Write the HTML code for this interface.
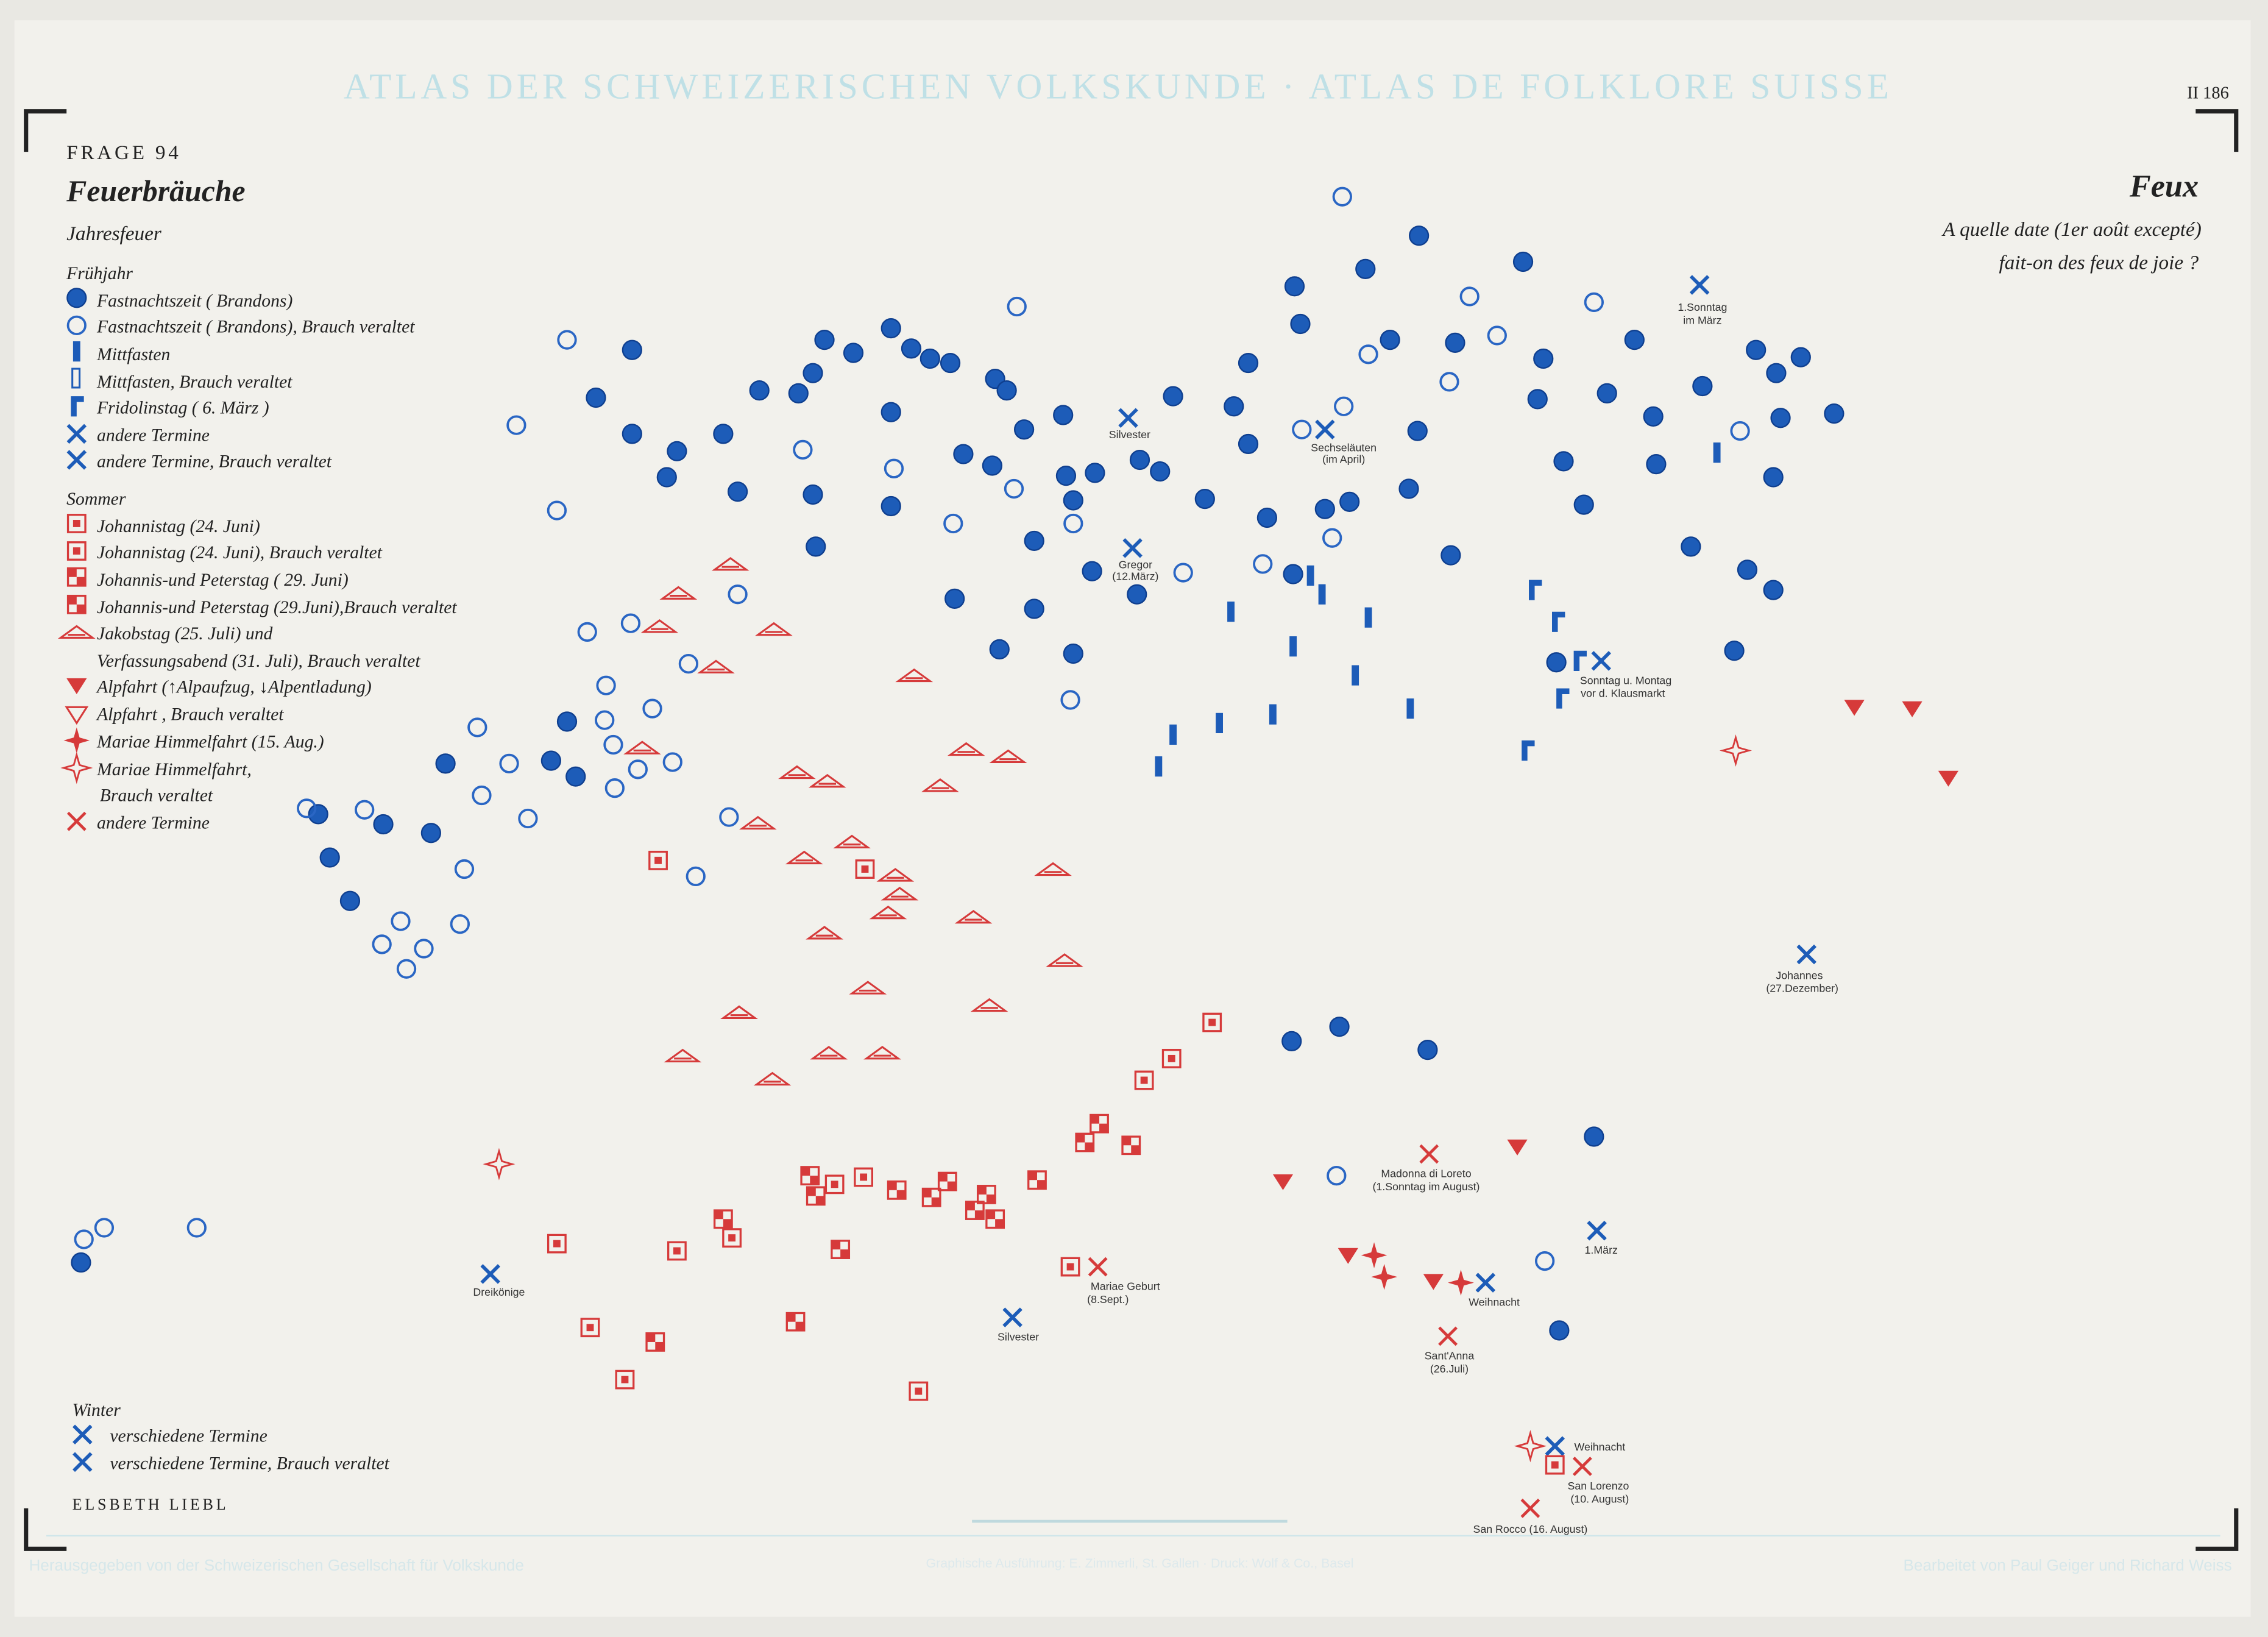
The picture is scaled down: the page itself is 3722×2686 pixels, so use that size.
<!DOCTYPE html>
<html><head><meta charset="utf-8"><style>
html,body{margin:0;padding:0;background:#f2f1ec;}
svg{display:block}
</style></head><body>
<svg width="3722" height="2686" viewBox="0 0 1568 1132" preserveAspectRatio="none" xmlns="http://www.w3.org/2000/svg" xmlns:xlink="http://www.w3.org/1999/xlink">
<defs>
<symbol id="fc" viewBox="-8 -8 16 16" overflow="visible"><circle r="6.5" fill="#1d5cb8"/><circle r="6.5" fill="none" stroke="#0f3f8f" stroke-width="1"/></symbol>
<symbol id="hc" viewBox="-8 -8 16 16" overflow="visible"><circle r="6" fill="none" stroke="#2a66c4" stroke-width="1.6"/></symbol>
<symbol id="bar" viewBox="-8 -8 16 16" overflow="visible"><rect x="-2.5" y="-7" width="5" height="14" fill="#1d5cb8"/></symbol>
<symbol id="fri" viewBox="-8 -8 16 16" overflow="visible"><path d="M-4,-7 h9 v4 h-5 v10 h-4z" fill="#1d5cb8"/></symbol>
<symbol id="bx" viewBox="-8 -8 16 16" overflow="visible"><path d="M-6,-6 L6,6 M6,-6 L-6,6" stroke="#1d5cb8" stroke-width="2.4"/></symbol>
<symbol id="tri" viewBox="-8 -8 16 16" overflow="visible"><path d="M-11,4 L0,-4 L11,4 Z M-6,2 h12" fill="none" stroke="#d63a3a" stroke-width="1.3"/></symbol>
<symbol id="sq" viewBox="-8 -8 16 16" overflow="visible"><rect x="-6" y="-6" width="12" height="12" fill="none" stroke="#d63a3a" stroke-width="1.4"/><rect x="-2.5" y="-2.5" width="5" height="5" fill="#d63a3a"/></symbol>
<symbol id="sq2" viewBox="-8 -8 16 16" overflow="visible"><rect x="-6" y="-6" width="12" height="12" fill="none" stroke="#d63a3a" stroke-width="1.4"/><rect x="-6" y="-6" width="6" height="6" fill="#d63a3a"/><rect x="0" y="0" width="6" height="6" fill="#d63a3a"/></symbol>
<symbol id="rt" viewBox="-8 -8 16 16" overflow="visible"><path d="M-7,-5 L7,-5 L0,6 Z" fill="#d63a3a"/></symbol>
<symbol id="st" viewBox="-8 -8 16 16" overflow="visible"><path d="M0,-9 L2,-2 L9,0 L2,2 L0,9 L-2,2 L-9,0 L-2,-2Z" fill="#d63a3a"/></symbol>
<symbol id="sth" viewBox="-8 -8 16 16" overflow="visible"><path d="M0,-9 L2,-2 L9,0 L2,2 L0,9 L-2,2 L-9,0 L-2,-2Z" fill="none" stroke="#d63a3a" stroke-width="1.2"/></symbol>
<symbol id="rx" viewBox="-8 -8 16 16" overflow="visible"><path d="M-6,-6 L6,6 M6,-6 L-6,6" stroke="#d63a3a" stroke-width="2"/></symbol>
</defs>
<rect width="1568" height="1132" fill="#e9e8e3"/>
<rect x="10" y="14" width="1546" height="1104" fill="#f2f1ec"/>
<text x="773" y="68" text-anchor="middle" font-family="Liberation Serif,serif" font-size="25" letter-spacing="2.5" fill="#bfe0e6">ATLAS DER SCHWEIZERISCHEN VOLKSKUNDE · ATLAS DE FOLKLORE SUISSE</text>
<text x="1512" y="68" font-family="Liberation Serif,serif" font-size="12" fill="#222">II 186</text>
<path d="M18,105 V77 H46 M1518,77 H1546 V105 M18,1043 V1071 H46 M1518,1071 H1546 V1043" fill="none" stroke="#222" stroke-width="3"/>
<path d="M32,1062 H1535" stroke="#cfe6ea" stroke-width="1"/>
<text x="20" y="1086" font-family="Liberation Sans,sans-serif" font-size="11" fill="#d6e7ea">Herausgegeben von der Schweizerischen Gesellschaft für Volkskunde</text>
<text x="1543" y="1086" text-anchor="end" font-family="Liberation Sans,sans-serif" font-size="11" fill="#d6e7ea">Bearbeitet von Paul Geiger und Richard Weiss</text>
<text x="788" y="1084" text-anchor="middle" font-family="Liberation Sans,sans-serif" font-size="9" fill="#dde9ec">Graphische Ausführung: E. Zimmerli, St. Gallen · Druck: Wolf &amp; Co., Basel</text>
<path d="M672,1052 H890" stroke="#bfd9de" stroke-width="2"/>
<g font-family="Liberation Serif,serif" fill="#222">
<text x="46" y="110" font-size="14" letter-spacing="2">FRAGE 94</text>
<text x="46" y="139" font-size="21" font-weight="bold" font-style="italic">Feuerbräuche</text>
<text x="46" y="166" font-size="14" font-style="italic">Jahresfeuer</text>
<text x="1520" y="136" font-size="22" text-anchor="end" font-weight="bold" font-style="italic">Feux</text>
<text x="1522" y="163" font-size="14" text-anchor="end" font-style="italic">A quelle date (1er août excepté)</text>
<text x="1520" y="186" font-size="14" text-anchor="end" font-style="italic">fait-on des feux de joie ?</text>
<g font-size="12.5" font-style="italic">
<text x="46" y="193">Frühjahr</text>
<text x="67" y="212">Fastnachtszeit ( Brandons)</text>
<text x="67" y="230">Fastnachtszeit ( Brandons), Brauch veraltet</text>
<text x="67" y="249">Mittfasten</text>
<text x="67" y="268">Mittfasten, Brauch veraltet</text>
<text x="67" y="286">Fridolinstag ( 6. März )</text>
<text x="67" y="305">andere Termine</text>
<text x="67" y="323">andere Termine, Brauch veraltet</text>
<text x="46" y="349">Sommer</text>
<text x="67" y="368">Johannistag (24. Juni)</text>
<text x="67" y="386">Johannistag (24. Juni), Brauch veraltet</text>
<text x="67" y="405">Johannis-und Peterstag ( 29. Juni)</text>
<text x="67" y="424">Johannis-und Peterstag (29.Juni),Brauch veraltet</text>
<text x="67" y="442">Jakobstag (25. Juli) und</text>
<text x="67" y="461">Verfassungsabend (31. Juli), Brauch veraltet</text>
<text x="67" y="479">Alpfahrt (↑Alpaufzug, ↓Alpentladung)</text>
<text x="67" y="498">Alpfahrt , Brauch veraltet</text>
<text x="67" y="517">Mariae Himmelfahrt (15. Aug.)</text>
<text x="67" y="536">Mariae Himmelfahrt,</text>
<text x="69" y="554">Brauch veraltet</text>
<text x="67" y="573">andere Termine</text>
<text x="50" y="979">Winter</text>
<text x="76" y="997">verschiedene Termine</text>
<text x="76" y="1016">verschiedene Termine, Brauch veraltet</text>
</g>
<text x="50" y="1044" font-size="11" letter-spacing="2">ELSBETH LIEBL</text>
</g>
<g>
<use href="#fc" x="45" y="198" width="16" height="16"/>
<use href="#hc" x="45" y="217" width="16" height="16"/>
<use href="#bar" x="45" y="235" width="16" height="16"/>
<rect x="50" y="255" width="5" height="13" fill="none" stroke="#1d5cb8" stroke-width="1.3"/>
<use href="#fri" x="45" y="273" width="16" height="16"/>
<use href="#bx" x="45" y="292" width="16" height="16"/>
<use href="#bx" x="45" y="310" width="16" height="16"/>
<use href="#sq" x="45" y="354" width="16" height="16"/>
<use href="#sq" x="45" y="373" width="16" height="16"/>
<use href="#sq2" x="45" y="391" width="16" height="16"/>
<use href="#sq2" x="45" y="410" width="16" height="16"/>
<use href="#tri" x="45" y="429" width="16" height="16"/>
<use href="#rt" x="45" y="466" width="16" height="16"/>
<path d="M46,489 L60,489 L53,500Z" fill="none" stroke="#d63a3a" stroke-width="1.3"/>
<use href="#st" x="45" y="504" width="16" height="16"/>
<use href="#sth" x="45" y="523" width="16" height="16"/>
<use href="#rx" x="45" y="560" width="16" height="16"/>
<use href="#bx" x="49" y="984" width="16" height="16"/>
<use href="#bx" x="49" y="1003" width="16" height="16"/>
</g>
<g id="pts"></g>
<g font-family="Liberation Sans,sans-serif" font-size="7.5" fill="#333" text-anchor="middle">
<text x="781" y="303">Silvester</text>
<text x="929" y="312">Sechseläuten</text><text x="929" y="320">(im April)</text>
<text x="785" y="393">Gregor</text><text x="785" y="401">(12.März)</text>
<text x="1177" y="215">1.Sonntag</text><text x="1177" y="224">im März</text>
<text x="1124" y="473">Sonntag u. Montag</text><text x="1122" y="482">vor d. Klausmarkt</text>
<text x="1244" y="677">Johannes</text><text x="1246" y="686">(27.Dezember)</text>
<text x="986" y="814">Madonna di Loreto</text><text x="986" y="823">(1.Sonntag im August)</text>
<text x="1107" y="867">1.März</text>
<text x="1033" y="903">Weihnacht</text>
<text x="1002" y="940">Sant'Anna</text><text x="1002" y="949">(26.Juli)</text>
<text x="778" y="892">Mariae Geburt</text><text x="766" y="901">(8.Sept.)</text>
<text x="704" y="927">Silvester</text>
<text x="345" y="896">Dreikönige</text>
<text x="1106" y="1003">Weihnacht</text>
<text x="1105" y="1030">San Lorenzo</text><text x="1106" y="1039">(10. August)</text>
<text x="1058" y="1060">San Rocco (16. August)</text>
</g>
<script>
var P={
fc:[[437,242],[412,275],[437,300],[468,312],[461,330],[500,300],[510,340],[525,270],[552,272],[562,258],[570,235],[590,244],[616,227],[630,241],[643,248],[657,251],[688,262],[696,270],[616,285],[666,314],[686,322],[708,297],[735,287],[562,342],[616,350],[564,378],[660,414],[715,374],[737,329],[757,327],[742,346],[788,318],[802,326],[811,274],[833,345],[853,281],[863,251],[863,307],[876,358],[895,198],[899,224],[944,186],[981,163],[961,235],[1006,237],[916,352],[933,347],[974,338],[980,298],[1003,384],[1053,181],[1067,248],[1063,276],[1111,272],[1130,235],[1143,288],[1145,321],[1081,319],[1095,349],[1177,267],[1214,242],[1228,258],[1245,247],[1231,289],[1268,286],[1226,330],[1169,378],[1208,394],[1226,408],[1199,450],[755,395],[786,411],[894,397],[691,449],[742,452],[715,421],[392,499],[381,526],[398,537],[308,528],[220,563],[265,570],[298,576],[228,593],[242,623],[893,720],[926,710],[987,726],[1102,786],[1078,920],[56,873],[1076,458]],
hc:[[928,136],[1016,205],[1102,209],[1035,232],[946,245],[1002,264],[929,281],[900,297],[1203,298],[921,372],[873,390],[818,396],[703,212],[618,324],[555,311],[659,362],[701,338],[742,362],[740,484],[392,235],[357,294],[385,353],[510,411],[406,437],[436,431],[476,459],[419,474],[451,490],[418,498],[330,503],[424,515],[465,527],[441,532],[352,528],[333,550],[425,545],[365,566],[252,560],[212,559],[321,601],[481,606],[504,565],[277,637],[318,639],[264,653],[293,656],[281,670],[924,813],[1068,872],[72,849],[58,857],[136,849]],
bar:[[1187,313],[906,398],[914,411],[946,427],[851,423],[894,447],[937,467],[975,490],[880,494],[843,500],[811,508],[801,530]],
fri:[[1061,408],[1077,430],[1092,457],[1080,483],[1056,519]],
bx:[[780,289],[916,297],[783,379],[1175,197],[1249,660],[1104,851],[339,881],[700,911],[1027,887],[1107,457],[1075,1000]],
tri:[[505,390],[469,410],[456,433],[535,435],[495,461],[632,467],[444,517],[668,518],[697,523],[551,534],[572,540],[650,543],[524,569],[589,582],[556,593],[619,605],[622,618],[614,631],[728,601],[673,634],[570,645],[736,664],[600,683],[684,695],[511,700],[573,728],[610,728],[472,730],[534,746]],
sq:[[455,595],[598,601],[838,707],[810,732],[791,747],[597,814],[577,819],[506,856],[385,860],[468,865],[740,876],[408,918],[432,954],[635,962],[1075,1013]],
sq2:[[760,777],[750,790],[782,792],[717,816],[560,813],[564,827],[620,823],[655,817],[644,828],[682,826],[674,837],[688,843],[500,843],[581,864],[453,928],[550,914]],
rt:[[1282,489],[1322,490],[1347,538],[887,817],[1049,793],[932,868],[991,886]],
st:[[950,868],[957,883],[1010,887]],
sth:[[1200,519],[345,805],[1058,1000]],
rx:[[988,798],[759,876],[1001,924],[1094,1014],[1058,1043]]};
var g=document.getElementById('pts'),ns='http://www.w3.org/2000/svg';
for(var k in P){P[k].forEach(function(p){var u=document.createElementNS(ns,'use');u.setAttribute('href','#'+k);u.setAttribute('x',p[0]-8);u.setAttribute('y',p[1]-8);u.setAttribute('width',16);u.setAttribute('height',16);g.appendChild(u);});}
</script>
</svg>
</body></html>
